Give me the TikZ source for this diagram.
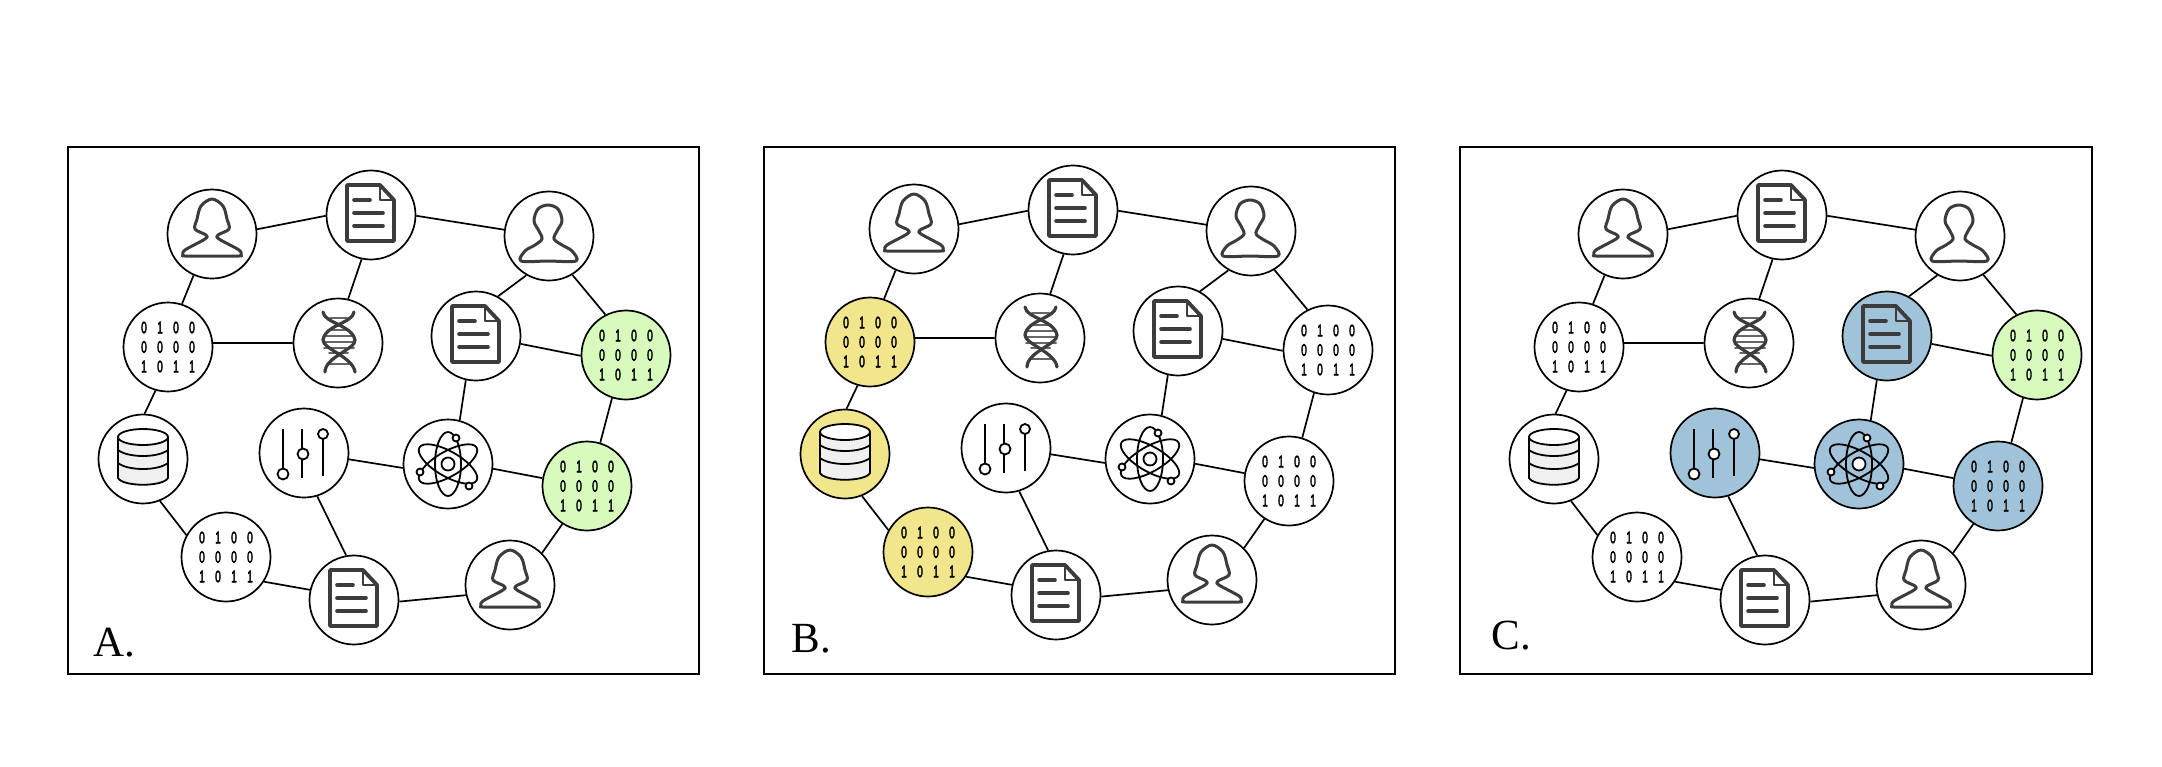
\documentclass[tikz,border=0pt]{standalone}
\usepackage{fontspec}
\usepackage{graphicx}
\setmainfont{Liberation Serif}
\newfontfamily\bitfont[FakeBold=3]{Liberation Sans}
\usetikzlibrary{backgrounds}
\definecolor{gr}{HTML}{D7FBBC}
\definecolor{ye}{HTML}{F2E68D}
\definecolor{bl}{HTML}{A1C3DA}
\definecolor{ic}{HTML}{3C3C3C}
\newcommand\bitcell[1]{\makebox[8pt]{\scalebox{.6}[1]{#1}}}
\newcommand\bitrow[4]{\bitcell{#1}\bitcell{#2}\bitcell{#3}\bitcell{#4}}
\newcommand\bitgrid{\bitrow0100\\\bitrow0000\\\bitrow1011}
\tikzset{
  nd/.style={circle,draw=black,line width=.85pt,minimum size=44.5pt,inner sep=0pt,fill=white},
  bits/.style={nd,align=center,font=\bitfont\fontsize{8.4}{9.75}\selectfont},
  edge/.style={draw=black,line width=.85pt},
  frame/.style={draw=black,line width=.95pt},
  plabel/.style={anchor=base west,inner sep=0pt,font=\fontsize{21.5}{24}\selectfont},
  icon/.style={draw=ic,line width=1.8pt,line join=round,line cap=round},
  ficon/.style={draw=black,line width=.9pt,line join=round},
  fbinA/.style={},fbinB/.style={},fbinC/.style={},fbinD/.style={},
  fdb/.style={},fdocB/.style={},fsl/.style={},fat/.style={},
  pics/docicon/.style={code={
    \draw[icon,line width=1.9pt] (-24,-30)--(9,-30)--(23,-15)--(23,26)--(-24,26)--cycle;
    \draw[icon,line width=1pt] (9,-30)--(9,-15)--(23,-15);
    \draw[icon] (-17,-15)--(-1,-15) (-17,-2)--(12,-2) (-17,11)--(12,11);
  }},
  pics/womanicon/.style={code={
    \draw[icon,line width=1.5pt] plot[smooth cycle,tension=.55] coordinates {
      (0,-35)(-11,-28)(-15,-15)(-17,-5)(-6,1)(-7,5)(-27,16)(-29,21)(-27,22)(0,22)
      (27,22)(29,21)(27,16)(7,5)(6,1)(17,-5)(15,-15)(11,-28)};
  }},
  pics/manicon/.style={code={
    \draw[icon,line width=1.5pt] plot[smooth cycle,tension=.55] coordinates {
      (-1,-31)(-11,-27)(-15,-15)(-10,-5)(-7,3)(-14,9)(-24,15)(-28,25)(-1,25)
      (27,25)(23,15)(13,9)(5,3)(8,-5)(13,-15)(9,-27)};
  }},
  pics/dbicon/.style={code={
    \draw[ficon,fill=black!6] (-25,-22)--(-25,19) .. controls (-20,28) and (20,28) .. (25,19)--(25,-22)--cycle;
    \draw[ficon] (-25,-9) .. controls (-15,-1) and (15,-1) .. (25,-9);
    \draw[ficon] (-25,4) .. controls (-15,12) and (15,12) .. (25,4);
    \draw[ficon,fill=white] (0,-22) ellipse [x radius=25,y radius=8];
  }},
  pics/slidericon/.style={code={
    \draw[ficon] (-21,-24)--(-21,16) (-2,-24)--(-2,25) (19,-14)--(19,23);
    \draw[ficon,fill=white] (-21,21) circle [radius=5.5];
    \draw[ficon,fill=white] (-1,1) circle [radius=5.5];
    \draw[ficon,fill=white] (19,-19) circle [radius=5];
  }},
  pics/atomicon/.style={code={
    \draw[ficon] (0,0) ellipse [x radius=13,y radius=32];
    \draw[ficon,rotate=60] (0,0) ellipse [x radius=12.5,y radius=33];
    \draw[ficon,rotate=-60] (0,0) ellipse [x radius=12.5,y radius=33];
    \draw[ficon,fill=white] (0,0) circle [radius=6.5];
    \draw[ficon,fill=white] (8,-26) circle [radius=3.5];
    \draw[ficon,fill=white] (-28,8) circle [radius=3.5];
    \draw[ficon,fill=white] (21,22) circle [radius=3.5];
  }},
  pics/dnaicon/.style={code={
    \draw[icon,draw=black!60,line width=1pt]
      (-8,-25)--(9,-25) (-10,-13)--(11,-13) (-14,-7)--(16,-7) (-15,-1)--(17,-1)
      (-14,5)--(16,5) (-9,10)--(10,10) (-9,21)--(11,21);
    \draw[icon,line width=1.6pt] (-15,-31) .. controls (-14,-20) and (14,-18) .. (17,-3)
      .. controls (18,6) and (-13,14) .. (-13,29);
    \draw[icon,line width=1.6pt] (16,-31) .. controls (15,-20) and (-13,-18) .. (-15,-3)
      .. controls (-15,6) and (15,14) .. (17,29);
  }}
}
% #1 prefix, #2 dx, #3 dy, #4 fills
\newcommand\drawpanel[4]{%
\begin{scope}[shift={(#2,#3)},#4]
  \node[nd] (#1woA) at (212,234) {};
  \node[nd] (#1docA) at (371,215) {};
  \node[nd] (#1man) at (549,236) {};
  \node[bits,fbinA] (#1binA) at (168,347) {\bitgrid};
  \node[nd] (#1dna) at (338,343) {};
  \node[nd,fdocB] (#1docB) at (476,336) {};
  \node[bits,fbinB] (#1binB) at (626,355) {\bitgrid};
  \node[nd,fdb] (#1db) at (143,459) {};
  \node[nd,fsl] (#1sl) at (304,453) {};
  \node[nd,fat] (#1at) at (448,464) {};
  \node[bits,fbinC] (#1binC) at (587,486) {\bitgrid};
  \node[bits,fbinD] (#1binD) at (226,557) {\bitgrid};
  \node[nd] (#1docC) at (354,600) {};
  \node[nd] (#1woB) at (510,585) {};
  \pic at (#1woA.center) {womanicon};
  \pic at (#1woB.center) {womanicon};
  \pic at (#1man.center) {manicon};
  \pic at (#1docA.center) {docicon};
  \pic at (#1docB.center) {docicon};
  \pic at (#1docC.center) {docicon};
  \pic at (#1dna.center) {dnaicon};
  \pic at (#1db.center) {dbicon};
  \pic at (#1sl.center) {slidericon};
  \pic at (#1at.center) {atomicon};
  \path[edge] (#1woA.6)--(#1docA.181) (#1docA.-1)--(#1man.172)
    (#1woA.-114)--(#1binA.72) (#1docA.-102)--(#1dna.77)
    (#1binA.5)--(#1dna.180) (#1binA.-106)--(#1db.88)
    (#1db.-68)--(#1binD.151) (#1binD.-33)--(#1docC.167)
    (#1docC.-2)--(#1woB.193) (#1woB.45)--(#1binC.237)
    (#1binC.73)--(#1binB.-108) (#1binB.117)--(#1man.-59)
    (#1binB.181)--(#1docB.-10) (#1docB.61)--(#1man.240)
    (#1docB.-103)--(#1at.75) (#1at.-6)--(#1binC.170)
    (#1at.185)--(#1sl.-8) (#1sl.-73)--(#1docC.100);
\end{scope}}
\begin{document}
\begin{tikzpicture}[x=.5pt,y=-.5pt]
  \useasboundingbox (0,0) rectangle (2162,766);
  \begin{scope}[on background layer]
    \fill[white] (0,0) rectangle (2162,766);
  \end{scope}
  \draw[frame] (68,147) rectangle (699,674);
  \draw[frame] (764,147) rectangle (1395,674);
  \draw[frame] (1460,147) rectangle (2092,674);
  \drawpanel{a}{0}{0}{fbinB/.style={fill=gr},fbinC/.style={fill=gr}}
  \drawpanel{b}{702}{-5}{fbinA/.style={fill=ye},fdb/.style={fill=ye},fbinD/.style={fill=ye}}
  \drawpanel{c}{1411}{0}{fdocB/.style={fill=bl},fbinB/.style={fill=gr},fsl/.style={fill=bl},fat/.style={fill=bl},fbinC/.style={fill=bl}}
  \node[plabel] (la) at (93,656) {A.};
  \node[plabel] (lb) at (791,652) {B.};
  \node[plabel] (lc) at (1491,649) {C.};
\end{tikzpicture}
\end{document}
